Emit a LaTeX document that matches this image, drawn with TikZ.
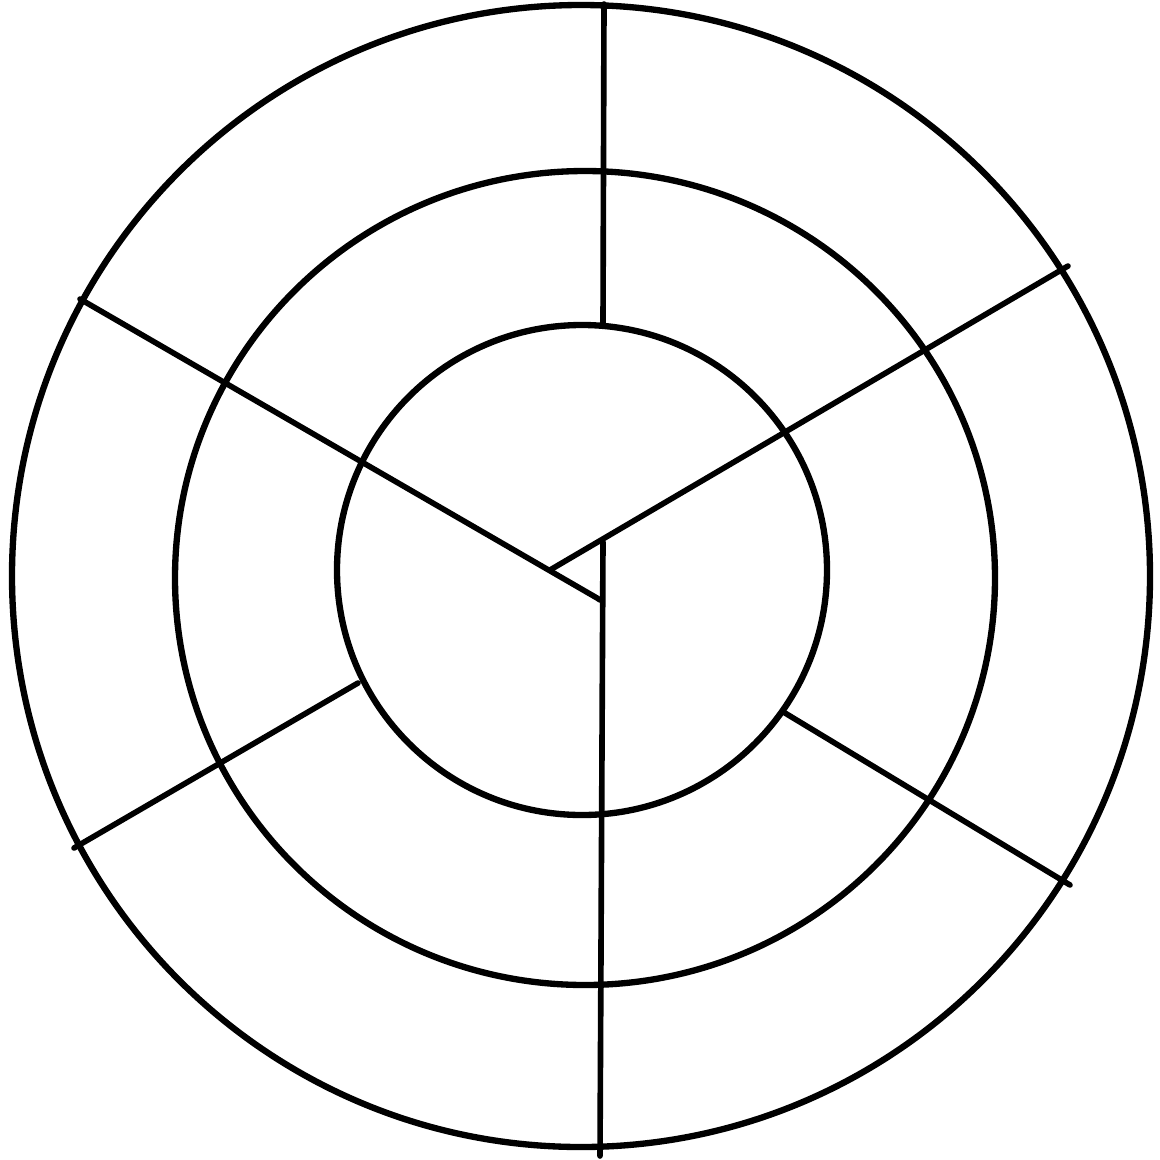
\documentclass[tikz,border=0pt]{standalone}
\usepackage{tikz}
\tikzstyle{ring}=[draw=black,line width=1.8pt]
\tikzstyle{spoke}=[draw=black,line width=1.6pt,line cap=round]

\begin{document}
\begin{tikzpicture}[x=0.01cm,y=-0.01cm]
\useasboundingbox (0,0) rectangle (1160,1160);
% centres
\coordinate (cout) at (581,576);
\coordinate (cmid) at (585,578);
\coordinate (cin) at (582,570);

% spoke ends
\coordinate (top) at (604,4);
\coordinate (topin) at (603,325);
\coordinate (ur) at (1068,266);
\coordinate (urin) at (550,570);
\coordinate (ul) at (80,299);
\coordinate (ulin) at (597,598);
\coordinate (bot) at (600,1156);
\coordinate (botin) at (603,542);
\coordinate (ll) at (74,848);
\coordinate (llin) at (358,683);
\coordinate (lr) at (1070,885);
\coordinate (lrin) at (785,713);

% circles
\draw[ring] (cout) ellipse [x radius=569,y radius=571];
\draw[ring] (cmid) ellipse [x radius=410,y radius=407];
\draw[ring] (cin) ellipse [x radius=245,y radius=245];

% spokes
\draw[spoke] (top) -- (topin);
\draw[spoke] (ur) -- (urin);
\draw[spoke] (ul) -- (ulin) -- (600,600);
\draw[spoke] (botin) -- (bot);
\draw[spoke] (ll) -- (llin);
\draw[spoke] (lrin) -- (lr);
\end{tikzpicture}
\end{document}
